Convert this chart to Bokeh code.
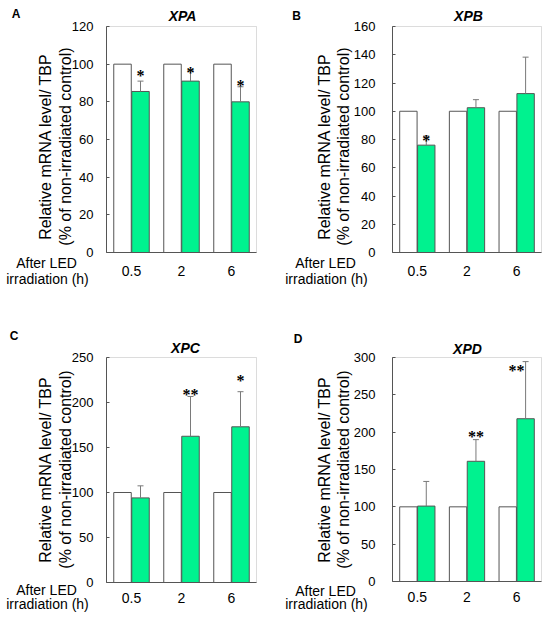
import math
from bokeh.plotting import figure
from bokeh.layouts import column, row
from bokeh.models import Range1d, FixedTicker, ColumnDataSource, Label, BoxAnnotation
from bokeh.transform import dodge
from bokeh.embed import file_html
from bokeh.resources import INLINE

# ---------------- data ----------------
times = ["0.5", "2", "6"]
control = [100, 100, 100]

xpa_irr = [85.5, 91.0, 80.0]
xpa_err = [5.5, 5.5, 8.0]
xpa_sig = ["*", "*", "*"]
xpa_sig_y = [95.6, 97.0, 90.4]

xpb_irr = [76.0, 102.5, 112.5]
xpb_err = [6.5, 5.7, 25.8]
xpb_sig = ["*", "", ""]
xpb_sig_y = [81.6, 0, 0]

xpc_irr = [94.0, 162.5, 173.0]
xpc_err = [13.4, 44.2, 39.0]
xpc_sig = ["", "**", "*"]
xpc_sig_y = [0, 212.0, 228.0]

xpd_irr = [101.0, 161.0, 218.0]
xpd_err = [33.0, 29.0, 76.5]
xpd_sig = ["", "**", "**"]
xpd_sig_y = [0, 198.0, 286.5]

y_ticks_a = [0, 20, 40, 60, 80, 100, 120]
y_ticks_b = [0, 20, 40, 60, 80, 100, 120, 140, 160]
y_ticks_c = [0, 50, 100, 150, 200, 250]
y_ticks_d = [0, 50, 100, 150, 200, 250, 300]

ylab1 = "Relative mRNA level/ TBP"
ylab2 = "(% of non-irradiated control)"
xlab1 = "After LED"
xlab2 = "irradiation (h)"

FONT = "Liberation Sans"
GREEN = "#00F28F"
EDGE = "#555555"
BOXC = "#8a8a8a"
ERRC = "#7a7a7a"


def panel(letter, gene, irr, err, sig, sig_y, sig_dx, yticks,
          fig, box, tick_standoff, x_standoff, pos):
    fx, fy, W, H = fig
    bl, br, bt, bb = box
    n = len(times)
    ymax = yticks[-1]
    kx = (br - bl) / n
    ky = (bb - bt) / ymax
    xr = Range1d(-(bl - fx) / kx, n + (fx + W - br) / kx)
    yr = Range1d(-(fy + H - bb) / ky, ymax + (bt - fy) / ky)

    p = figure(width=W, height=H, x_range=xr, y_range=yr,
               output_backend="svg", toolbar_location=None, tools="",
               min_border=0, min_border_left=0, min_border_right=0,
               min_border_top=0, min_border_bottom=0, title=None)
    p.background_fill_color = "white"
    p.border_fill_color = "white"
    p.outline_line_color = None
    p.xgrid.visible = False
    p.ygrid.visible = False

    centers = [i + 0.5 for i in range(n)]
    src = ColumnDataSource(dict(c=centers, ctrl=control, irr=irr,
                                upper=[v + e for v, e in zip(irr, err)]))

    # plot box (top and right border)
    p.add_layout(BoxAnnotation(left=0, right=n, bottom=0, top=ymax,
                               fill_alpha=0, fill_color=None,
                               line_color=BOXC, line_width=1, level="underlay"))

    p.vbar(x=dodge("c", -0.18), top="ctrl", bottom=0, width=0.35,
           source=src, fill_color="white", line_color=EDGE, line_width=1)
    p.vbar(x=dodge("c", 0.18), top="irr", bottom=0, width=0.35,
           source=src, fill_color=GREEN, line_color=EDGE, line_width=1)
    p.segment(x0=dodge("c", 0.18), y0="irr", x1=dodge("c", 0.18), y1="upper",
              source=src, line_color=ERRC, line_width=1)
    p.scatter(x=dodge("c", 0.18), y="upper", marker="dash", size=6,
              source=src, line_color=ERRC, line_width=1)

    st = [i for i, s in enumerate(sig) if s]
    ssrc = ColumnDataSource(dict(c=[centers[i] for i in st], s=[sig[i] for i in st],
                                 y=[sig_y[i] for i in st], dx=[sig_dx[i] for i in st]))
    p.text(x=dodge("c", 0.18), y="y", text="s", source=ssrc,
           x_offset="dx", y_offset=3, text_font="Liberation Sans",
           text_font_size="16px", text_font_style="bold", text_color="black",
           text_align="center", text_baseline="middle")

    # axes (drawn at data origin)
    yax = p.yaxis[0]
    yax.fixed_location = 0
    yax.bounds = (0, ymax)
    yax.ticker = FixedTicker(ticks=yticks)
    yax.major_tick_in = 3
    yax.major_tick_out = 0
    yax.minor_tick_line_color = None
    yax.axis_line_color = EDGE
    yax.major_tick_line_color = EDGE
    yax.major_label_standoff = tick_standoff
    yax.major_label_text_font = FONT
    yax.major_label_text_font_size = "13px"
    yax.major_label_text_color = "black"

    xax = p.xaxis[0]
    xax.fixed_location = 0
    xax.bounds = (0, n)
    xax.ticker = FixedTicker(ticks=centers)
    xax.major_label_overrides = {c: t for c, t in zip(centers, times)}
    xax.major_tick_line_color = None
    xax.minor_tick_line_color = None
    xax.axis_line_color = EDGE
    xax.major_label_standoff = x_standoff
    xax.major_label_text_font = FONT
    xax.major_label_text_font_size = "14px"
    xax.major_label_text_color = "black"

    def put(text, g, size, style="normal", angle=0.0):
        gx, gy = g
        p.add_layout(Label(x=gx - fx, y=(fy + H) - gy, x_units="screen", y_units="screen",
                           text=text, text_font=FONT, text_font_size=size,
                           text_font_style=style, text_color="black", angle=angle,
                           text_align="center", text_baseline="middle"))

    put(letter, pos["letter"], "12px", "bold")
    put(gene, pos["title"], "14px", "bold italic")
    put(ylab1, pos["yl1"], "16px", angle=math.pi / 2)
    put(ylab2, pos["yl2"], "16px", angle=math.pi / 2)
    put(xlab1, pos["xl1"], "14px")
    put(xlab2, pos["xl2"], "14px")
    return p


pa = panel("A", "XPA", xpa_irr, xpa_err, xpa_sig, xpa_sig_y, [0, 0, 0], y_ticks_a,
           (0, 0, 275, 318), (106, 256, 26, 252), 13, 7,
           dict(letter=(15.5, 13.5), title=(182, 15), yl1=(45, 146), yl2=(65, 146),
                xl1=(46, 262), xl2=(47, 278.5)))
pb = panel("B", "XPB", xpb_irr, xpb_err, xpb_sig, xpb_sig_y, [0, 0, 0], y_ticks_b,
           (275, 0, 275, 318), (392, 541, 26, 252), 17, 7,
           dict(letter=(296, 15), title=(468, 15), yl1=(324, 146), yl2=(343, 146),
                xl1=(325, 262), xl2=(326, 278.5)))
pc = panel("C", "XPC", xpc_irr, xpc_err, xpc_sig, xpc_sig_y, [0, 0, 0], y_ticks_c,
           (0, 318, 275, 302), (106, 256, 357, 582), 13, 4,
           dict(letter=(13.5, 335), title=(185, 347), yl1=(45, 469), yl2=(65, 469),
                xl1=(46, 589.5), xl2=(47, 603)))
pd = panel("D", "XPD", xpd_irr, xpd_err, xpd_sig, xpd_sig_y, [0, 0, -9], y_ticks_d,
           (275, 318, 275, 302), (392, 541, 357, 581), 17, 4,
           dict(letter=(297.5, 338), title=(467, 348), yl1=(324, 469), yl2=(343, 469),
                xl1=(325, 590), xl2=(326, 603)))

layout = column(row(pa, pb), row(pc, pd))
open("out.html", "w").write(file_html(layout, INLINE))
